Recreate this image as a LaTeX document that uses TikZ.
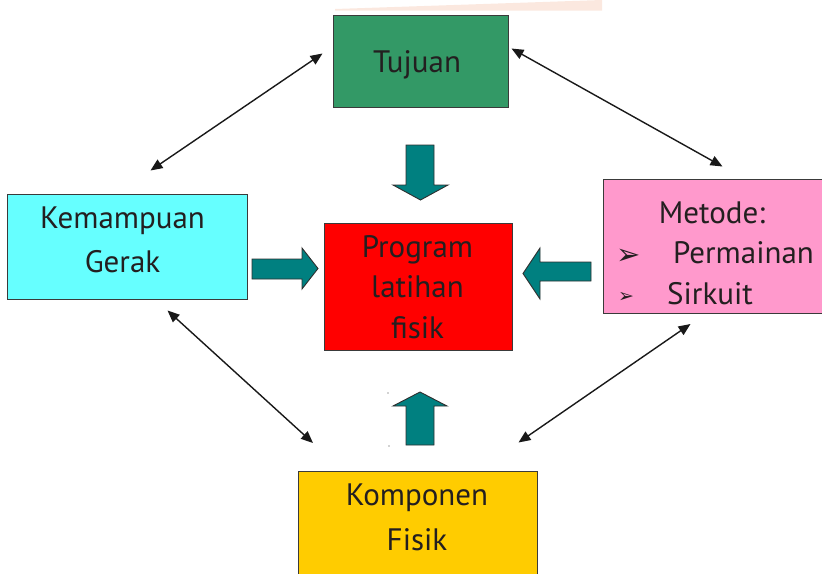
\documentclass[tikz,border=0pt]{standalone}
\usepackage{fontspec}
\setmainfont{PT Sans}
\newfontfamily\symfont{DejaVu Sans}
\usetikzlibrary{arrows.meta}

\definecolor{txt}{HTML}{231F20}
\definecolor{edge}{HTML}{3A3A3A}
\definecolor{goalgreen}{HTML}{339966}
\definecolor{skillcyan}{HTML}{66FFFF}
\definecolor{progred}{HTML}{FF0000}
\definecolor{methodpink}{HTML}{FF99CC}
\definecolor{compyellow}{HTML}{FFCC00}
\definecolor{flowteal}{HTML}{008080}
\definecolor{peach}{HTML}{FBE8DF}

\tikzset{
  box/.style={draw=edge, line width=0.9pt, inner sep=0pt},
  label/.style={text=txt, font=\fontsize{31}{44}\selectfont, align=center, inner sep=0pt, anchor=base},
  bullet/.style={text=txt, inner sep=0pt, anchor=base west},
  blockarrow/.style={fill=flowteal, draw=edge!80!black, line width=0.9pt, line join=miter},
  link/.style={{Triangle[length=12pt,width=10pt]}-{Triangle[length=12pt,width=10pt]}, line width=1.4pt, draw=black!90},
}

\begin{document}
\begin{tikzpicture}[x=1pt,y=-1pt]
\useasboundingbox (0,0) rectangle (822,573);

% faint band along the top edge
\fill[peach] (335,10.5) -- (602,10.5) -- (602,0) -- (335,9) -- cycle;

% boxes
\node[box, fill=goalgreen,  minimum width=175pt, minimum height=92pt]  (tujuan)   at (420.5,61) {};
\node[box, fill=skillcyan,  minimum width=240pt, minimum height=105pt] (gerak)    at (127,246.5) {};
\node[box, fill=progred,    minimum width=188pt, minimum height=127pt] (program)  at (418,286.5) {};
\node[box, fill=methodpink, minimum width=222pt, minimum height=134pt] (metode)   at (714,246) {};
\node[box, fill=compyellow, minimum width=239pt, minimum height=106pt] (komponen) at (417.5,524) {};

% box texts
\node[label] (tujuanT)   at (417,72)  {Tujuan};
\node[label] (gerakT)    at (122.5,272) {Kemampuan\\Gerak};
\node[label, font=\fontsize{31}{40.5}\selectfont] (programT) at (417.5,338) {Program\\latihan\\fisik};
\node[label, font=\fontsize{31}{45}\selectfont]   (komponenT) at (417,550) {Komponen\\Fisik};
\node[label] (metodeT)   at (712,223) {Metode:};
\node[bullet, font={\symfont\fontsize{29}{29}\selectfont}] (bulA) at (616,264) {➢};
\node[label, anchor=base west] (permT)  at (673,263) {Permainan};
\node[bullet, font={\symfont\fontsize{19}{19}\selectfont}] (bulB) at (618,302) {➢};
\node[label, anchor=base west] (sirkT)  at (667,304) {Sirkuit};

% block arrows feeding the programme
\coordinate (dnA) at (406,145);
\draw[blockarrow] (dnA) -- ++(28,0) -- ++(0,40) -- ++(14,0) -- (420.5,200) -- (393,185) -- ++(13,0) -- cycle;
\coordinate (upA) at (406,445);
\draw[blockarrow] (upA) -- ++(28,0) -- ++(0,-39) -- ++(13,0) -- (420,392) -- (393,406) -- ++(13,0) -- cycle;
\coordinate (rtA) at (252,259);
\draw[blockarrow] (rtA) -- ++(50,0) -- ++(0,-11) -- (318,268.5) -- (302,289) -- ++(0,-10) -- ++(-50,0) -- cycle;
\coordinate (lfA) at (591,262);
\draw[blockarrow] (lfA) -- ++(-51,0) -- ++(0,-14) -- (523,273.5) -- (540,299) -- ++(0,-18) -- ++(51,0) -- cycle;

% stray marks
\fill[black!35] (388,393) circle (0.8);
\fill[black!35] (389,446) circle (0.8);

% double-headed links between the outer boxes
\coordinate (l1a) at (150.5,170.5);
\coordinate (l1b) at (322.5,53.5);
\coordinate (l2a) at (511.5,48.5);
\coordinate (l2b) at (722.5,166.5);
\coordinate (l3a) at (167.5,310.5);
\coordinate (l3b) at (313,443);
\coordinate (l4a) at (690.5,324);
\coordinate (l4b) at (518.5,442.5);
\draw[link] (l1a) -- (l1b);
\draw[link] (l2a) -- (l2b);
\draw[link] (l3a) -- (l3b);
\draw[link] (l4a) -- (l4b);
\end{tikzpicture}
\end{document}
